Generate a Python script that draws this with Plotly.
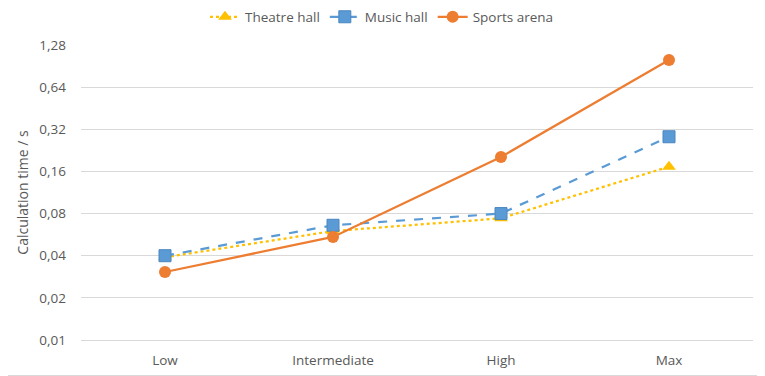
import plotly.graph_objects as go

categories = ["Low", "Intermediate", "High", "Max"]
theatre_hall = [0.039, 0.060, 0.074, 0.173]
music_hall = [0.040, 0.066, 0.080, 0.283]
sports_arena = [0.0306, 0.0545, 0.203, 1.00]
tick_vals = [0.01, 0.02, 0.04, 0.08, 0.16, 0.32, 0.64, 1.28]
tick_text = ["0,01", "0,02", "0,04", "0,08", "0,16", "0,32", "0,64", "1,28"]

# page body has an 8px margin; compensate so the plot lands where the reference has it
OFF = 8
W, H = 765 - OFF, 376 - OFF
ml, mr, mt, mb = 81 - OFF, 12, 45 - OFF, 36
pw, ph = W - ml - mr, H - mt - mb

fig = go.Figure()
fig.add_trace(go.Scatter(
    x=categories, y=theatre_hall, name="Theatre hall", mode="lines+markers",
    line=dict(color="#FFC000", width=2.25, dash="dot"),
    marker=dict(symbol="triangle-up", size=12, color="#FFC000"),
))
fig.add_trace(go.Scatter(
    x=categories, y=music_hall, name="Music hall", mode="lines+markers",
    line=dict(color="#5B9BD5", width=2.25, dash="dash"),
    marker=dict(symbol="square", size=12, color="#5B9BD5",
                line=dict(color="#4A86C0", width=1)),
))
fig.add_trace(go.Scatter(
    x=categories, y=sports_arena, name="Sports arena", mode="lines+markers",
    line=dict(color="#ED7D31", width=2.25),
    marker=dict(symbol="circle", size=12, color="#ED7D31"),
))

font_color = "#595959"
fig.update_layout(
    width=W, height=H,
    margin=dict(l=ml, r=mr, t=mt, b=mb, autoexpand=False),
    paper_bgcolor="white", plot_bgcolor="white",
    font=dict(family="Open Sans", size=13, color=font_color),
    legend=dict(orientation="h", xref="container", x=(382 - OFF) / W, xanchor="center",
                yref="container", y=1 - (17 - OFF) / H, yanchor="middle",
                itemwidth=30,
                font=dict(size=13.5, color=font_color), traceorder="normal"),
    xaxis=dict(type="category", range=[-0.5, 3.5], showgrid=False,
               showline=True, linecolor="#D9D9D9", linewidth=1,
               ticks="", ticklabelstandoff=8,
               tickfont=dict(size=13.5, color=font_color)),
    yaxis=dict(type="log", range=[-2, 0.10721], tickvals=tick_vals,
               ticktext=tick_text, showgrid=True, gridcolor="#D9D9D9",
               gridwidth=1, zeroline=False, ticks="", ticklabelstandoff=14,
               tickfont=dict(size=13.5, color=font_color),
               title=dict(text="Calculation time / s",
                          font=dict(size=14, color=font_color), standoff=7)),
    showlegend=True,
)
fig.add_shape(type="rect", xref="paper", yref="paper",
              x0=(-ml - 10) / pw, x1=(W - 0.5 - ml) / pw,
              y0=(-mb + 0.5) / ph, y1=(H + 10 - mb) / ph,
              line=dict(color="#D9D9D9", width=1), layer="below")

fig.write_html("out.html")
